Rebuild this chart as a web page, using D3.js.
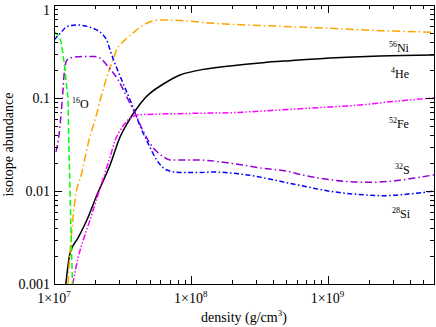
<!DOCTYPE html>
<html>
<head>
<meta charset="utf-8">
<script src="https://cdn.jsdelivr.net/npm/d3@7"></script>
<style>
  html, body { margin: 0; padding: 0; background: #fff; }
  svg { display: block; font-family: "Liberation Serif", "Times New Roman", serif; }
</style>
</head>
<body>
<div class="chart"></div>
<script>
// data: [density g/cm^3, abundance]
const he4 = [[1.22e7, 0.001], [1.31e7, 0.00215], [1.5e7, 0.00313], [1.74e7, 0.00488], [2.06e7, 0.00906],
  [2.57e7, 0.019], [3.04e7, 0.0381], [3.48e7, 0.0552], [3.91e7, 0.0725], [4.63e7, 0.1], [6.48e7, 0.145],
  [8.34e7, 0.177], [1.11e8, 0.197], [1.94e8, 0.221], [3.37e8, 0.24], [5.31e8, 0.252], [1.04e9, 0.269],
  [2.42e9, 0.283], [6e9, 0.29]];
const ni56 = [[1.266e7, 0.001], [1.31e7, 0.00221], [1.347e7, 0.00362], [1.424e7, 0.008], [1.594e7, 0.0156],
  [1.781e7, 0.0328], [1.994e7, 0.058], [2.36e7, 0.145], [2.64e7, 0.238], [2.87e7, 0.328], [3.3e7, 0.42],
  [3.78e7, 0.5], [4.76e7, 0.636], [5.96e7, 0.69], [8.34e7, 0.681], [1.45e8, 0.636], [2.58e8, 0.61],
  [5.31e8, 0.585], [1.04e9, 0.561], [2.42e9, 0.53], [6e9, 0.51]];
const si28 = [[1e7, 0.42], [1.138e7, 0.516], [1.238e7, 0.585], [1.465e7, 0.61], [1.94e7, 0.56], [2.43e7, 0.42],
  [2.567e7, 0.328], [3.125e7, 0.156], [3.7e7, 0.0862], [4.38e7, 0.0453], [4.86e7, 0.0328], [5.63e7, 0.0216],
  [6.67e7, 0.0168], [8.34e7, 0.0158], [1.167e8, 0.0158], [1.45e8, 0.016], [2.58e8, 0.0149], [5.31e8, 0.0121],
  [1.095e9, 0.00983], [1.94e9, 0.00906], [2.54e9, 0.0089], [4.0e9, 0.0093], [6e9, 0.01]];
const s32 = [[1.034e7, 0.0263], [1.088e7, 0.04], [1.125e7, 0.0657], [1.164e7, 0.122], [1.193e7, 0.2],
  [1.245e7, 0.256], [1.354e7, 0.2725], [1.63e7, 0.279], [1.994e7, 0.279], [2.17e7, 0.269], [2.49e7, 0.217],
  [2.95e7, 0.156], [3.49e7, 0.0952], [3.91e7, 0.0685], [4.38e7, 0.0476], [5.03e7, 0.0326], [6.3e7, 0.0234],
  [7.05e7, 0.0216], [1.1e8, 0.0216], [1.94e8, 0.0199], [3.37e8, 0.01754], [5.31e8, 0.0161], [6.28e8, 0.0151],
  [1.095e9, 0.0131], [1.94e9, 0.0124], [3.0e9, 0.0128], [4.21e9, 0.0137], [6e9, 0.0149]];
const fe52 = [[1.37e7, 0.001], [1.505e7, 0.00195], [1.657e7, 0.00313], [1.833e7, 0.00488], [2.06e7, 0.0084],
  [2.32e7, 0.0145], [2.57e7, 0.0232], [2.79e7, 0.0345], [3.09e7, 0.0464], [3.42e7, 0.0566], [3.72e7, 0.0625],
  [4.04e7, 0.0657], [6.26e7, 0.0673], [1.11e8, 0.0685], [1.94e8, 0.0695], [5.31e8, 0.0756], [1.04e9, 0.08],
  [1.73e9, 0.084], [3.0e9, 0.0917], [6e9, 0.1]];
const o16 = [[1e7, 0.513], [1.07e7, 0.47], [1.125e7, 0.4], [1.17e7, 0.278], [1.203e7, 0.2], [1.238e7, 0.132],
  [1.266e7, 0.0952], [1.281e7, 0.0353], [1.298e7, 0.0168], [1.331e7, 0.0038], [1.365e7, 0.001]];

const isotopes = ["4He", "56Ni", "28Si", "32S", "52Fe", "16O"];
const massNumbers = ["4", "56", "28", "32", "52", "16"];
const elements = ["He", "Ni", "Si", "S", "Fe", "O"];
// label anchor in data units
const labelDensity = [2.91e9, 2.81e9, 2.96e9, 3.11e9, 2.81e9, 1.354e7];
const labelAbund = [0.164, 0.312, 0.00513, 0.0152, 0.0476, 0.078];

const xTicks = [1e7, 1e8, 1e9];
const xTickExp = ["7", "8", "9"];
const yTicks = [1, 0.1, 0.01, 0.001];
const yTickLabels = ["1", "0.1", "0.01", "0.001"];

// styles
const seriesData = [he4, ni56, si28, s32, fe52, o16];
const colors = ["#000000", "#ffa500", "#0000ff", "#9400d3", "#ff00ff", "#00ff00"];
const dashes = [null, "8,3,1.5,3", "5,2.5,1.5,2.5", "7,3,1.5,3", "6,2,1.5,2,1.5,2", "6,3"];

const width = 436, height = 327;
const plot = {left: 54, right: 434, top: 5, bottom: 284};

const svg = d3.select(".chart").append("svg")
  .attr("width", width)
  .attr("height", height);

const x = d3.scaleLog().domain([1e7, 6e9]).range([plot.left, plot.right]);
const y = d3.scaleLog().domain([0.001, 1]).range([plot.bottom, plot.top]);

svg.append("clipPath").attr("id", "clip")
  .append("rect")
  .attr("x", plot.left).attr("y", plot.top)
  .attr("width", plot.right - plot.left).attr("height", plot.bottom - plot.top);

// curves
const line = d3.line()
  .x(d => x(d[0]))
  .y(d => y(d[1]))
  .curve(d3.curveMonotoneX);

svg.append("g").attr("clip-path", "url(#clip)")
  .selectAll("path")
  .data(seriesData)
  .enter().append("path")
  .attr("d", line)
  .attr("fill", "none")
  .attr("stroke", (d, i) => colors[i])
  .attr("stroke-width", 1.5)
  .attr("stroke-dasharray", (d, i) => dashes[i]);

// ticks (inward on all four sides)
const xMinor = [], yMinor = [];
[1e7, 1e8, 1e9].forEach(dec => {
  for (let k = 2; k <= 9; k++) if (k * dec <= 6e9) xMinor.push(k * dec);
});
[1e-3, 1e-2, 1e-1].forEach(dec => {
  for (let k = 2; k <= 9; k++) yMinor.push(k * dec);
});

const axes = svg.append("g")
  .attr("stroke", "#000")
  .attr("stroke-width", 1)
  .attr("shape-rendering", "crispEdges");

function xTick(v, len) {
  const px = Math.round(x(v)) + 0.5;
  axes.append("line").attr("x1", px).attr("x2", px).attr("y1", plot.bottom).attr("y2", plot.bottom - len);
  axes.append("line").attr("x1", px).attr("x2", px).attr("y1", plot.top).attr("y2", plot.top + len);
}
function yTick(v, len) {
  const py = Math.round(y(v)) + 0.5;
  axes.append("line").attr("x1", plot.left).attr("x2", plot.left + len).attr("y1", py).attr("y2", py);
  axes.append("line").attr("x1", plot.right).attr("x2", plot.right - len).attr("y1", py).attr("y2", py);
}
xTicks.forEach(v => xTick(v, 8));
xMinor.forEach(v => xTick(v, 4));
yTicks.forEach(v => yTick(v, 8));
yMinor.forEach(v => yTick(v, 4));

axes.append("rect")
  .attr("x", plot.left + 0.5).attr("y", plot.top + 0.5)
  .attr("width", plot.right - plot.left).attr("height", plot.bottom - plot.top)
  .attr("fill", "none");

// tick labels (top one kept inside the page)
svg.append("g").selectAll("text")
  .data(yTicks)
  .enter().append("text")
  .attr("x", plot.left - 4)
  .attr("y", d => Math.max(y(d), plot.top + 5))
  .attr("dy", "0.35em")
  .attr("text-anchor", "end")
  .style("font-size", "14px")
  .text((d, i) => yTickLabels[i]);

const xl = svg.append("g").selectAll("text")
  .data(xTicks)
  .enter().append("text")
  .attr("x", d => x(d))
  .attr("y", 303)
  .attr("text-anchor", "middle")
  .style("font-size", "14px");
xl.append("tspan").text("1\u00d710");
xl.append("tspan").attr("dy", -6).style("font-size", "9px").text((d, i) => xTickExp[i]);

// axis titles
const xt = svg.append("text")
  .attr("x", (plot.left + plot.right) / 2)
  .attr("y", 322)
  .attr("text-anchor", "middle")
  .style("font-size", "14px");
xt.append("tspan").text("density (g/cm");
xt.append("tspan").attr("dy", -6).style("font-size", "9px").text("3");
xt.append("tspan").attr("dy", 6).text(")");

svg.append("text")
  .attr("transform", `translate(13, ${(plot.top + plot.bottom) / 2}) rotate(-90)`)
  .attr("text-anchor", "middle")
  .style("font-size", "14px")
  .text("isotope abundance");

// isotope labels
const lab = svg.append("g").selectAll("text")
  .data(isotopes)
  .enter().append("text")
  .attr("x", (d, i) => x(labelDensity[i]))
  .attr("y", (d, i) => y(labelAbund[i]));
lab.append("tspan").attr("dy", -5).style("font-size", "8px").text((d, i) => massNumbers[i]);
lab.append("tspan").attr("dy", 5).style("font-size", "12px").text((d, i) => elements[i]);
</script>
</body>
</html>
